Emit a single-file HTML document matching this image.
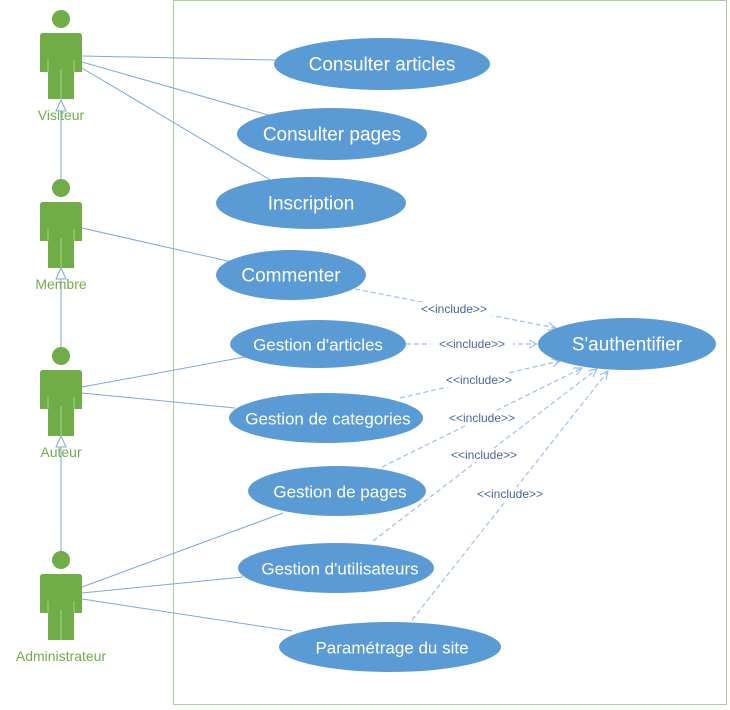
<!DOCTYPE html>
<html><head><meta charset="utf-8"><style>
html,body{margin:0;padding:0;background:#fff;width:730px;height:710px;overflow:hidden}
svg{display:block}
.uc{fill:#5b9bd5}
.t{fill:#fff;font-family:"Liberation Sans",sans-serif;text-anchor:middle;dominant-baseline:central}
.a{stroke:#7fa8d8;stroke-width:1;fill:none}
.d{stroke:#9dc0e6;stroke-width:1.2;fill:none;stroke-dasharray:5,3}
.lb{fill:#44689a;font-family:"Liberation Sans",sans-serif;font-size:12px;text-anchor:middle;dominant-baseline:central}
.an{fill:#70ad47;font-family:"Liberation Sans",sans-serif;font-size:14px;text-anchor:middle}
</style></head><body>
<svg width="730" height="710" viewBox="0 0 730 710" xmlns="http://www.w3.org/2000/svg">
<defs>
<g id="actor">
<circle cx="0" cy="0" r="9" fill="#70ad47"/>
<path d="M-21,17 Q-21,14 -18,14 L18,14 Q21,14 21,17 L21,53 L13,53 L13,80 L-13,80 L-13,53 L-21,53 Z" fill="#70ad47"/>
<line x1="-13" y1="41" x2="-13" y2="53" stroke="#a9d18e" stroke-width="1"/>
<line x1="13" y1="41" x2="13" y2="53" stroke="#a9d18e" stroke-width="1"/>
<line x1="0" y1="50" x2="0" y2="80" stroke="#a9d18e" stroke-width="1"/>
</g>
<marker id="ar" markerWidth="10" markerHeight="10" refX="9" refY="5" orient="auto" markerUnits="userSpaceOnUse">
<path d="M1,1 L9,5 L1,9" fill="none" stroke="#9dc0e6" stroke-width="1.2"/>
</marker>
</defs>
<rect x="173.5" y="0.5" width="553" height="704" fill="none" stroke="#a9d18e" stroke-width="1"/>

<line class="a" x1="61" y1="179" x2="61" y2="100"/>
<line class="a" x1="61" y1="347" x2="61" y2="268"/>
<line class="a" x1="61" y1="551" x2="61" y2="436"/>
<path d="M61,100 L56,111 L66,111 Z" fill="#fff" stroke="#7fa8d8"/>
<path d="M61,268 L56,279 L66,279 Z" fill="#fff" stroke="#7fa8d8"/>
<path d="M61,436 L56,447 L66,447 Z" fill="#fff" stroke="#7fa8d8"/>

<use href="#actor" x="61" y="19"/>
<use href="#actor" x="61" y="188"/>
<use href="#actor" x="61" y="356"/>
<use href="#actor" x="61" y="560"/>
<text class="an" x="61" y="120">Visiteur</text>
<text class="an" x="61" y="289">Membre</text>
<text class="an" x="61" y="457">Auteur</text>
<text class="an" x="61" y="661">Administrateur</text>

<line class="a" x1="82" y1="56" x2="275" y2="60"/>
<line class="a" x1="82" y1="62" x2="268" y2="115"/>
<line class="a" x1="82" y1="68" x2="272" y2="181"/>
<line class="a" x1="82" y1="228" x2="232" y2="262"/>
<line class="a" x1="82" y1="387" x2="250" y2="356"/>
<line class="a" x1="82" y1="393" x2="235" y2="408"/>
<line class="a" x1="82" y1="587" x2="283" y2="513"/>
<line class="a" x1="82" y1="593" x2="243" y2="577"/>
<line class="a" x1="82" y1="599" x2="292" y2="631"/>

<line class="d" x1="355" y1="289" x2="556" y2="328" marker-end="url(#ar)"/>
<line class="d" x1="406" y1="344" x2="537" y2="344" marker-end="url(#ar)"/>
<line class="d" x1="400" y1="398" x2="560" y2="361" marker-end="url(#ar)"/>
<line class="d" x1="382" y1="467" x2="582" y2="368" marker-end="url(#ar)"/>
<line class="d" x1="373" y1="541" x2="597" y2="369" marker-end="url(#ar)"/>
<line class="d" x1="412" y1="620" x2="608" y2="371" marker-end="url(#ar)"/>

<g>
<rect x="413" y="302" width="82" height="14" fill="#fff"/><text class="lb" x="454" y="309">&lt;&lt;include&gt;&gt;</text>
<rect x="431" y="337" width="82" height="14" fill="#fff"/><text class="lb" x="472" y="344">&lt;&lt;include&gt;&gt;</text>
<rect x="438" y="373" width="82" height="14" fill="#fff"/><text class="lb" x="479" y="380">&lt;&lt;include&gt;&gt;</text>
<rect x="441" y="411" width="82" height="14" fill="#fff"/><text class="lb" x="482" y="418">&lt;&lt;include&gt;&gt;</text>
<rect x="443" y="448" width="82" height="14" fill="#fff"/><text class="lb" x="484" y="455">&lt;&lt;include&gt;&gt;</text>
<rect x="469" y="487" width="82" height="14" fill="#fff"/><text class="lb" x="510" y="494">&lt;&lt;include&gt;&gt;</text>
</g>

<ellipse class="uc" cx="382" cy="64" rx="108" ry="26"/><text class="t" x="382" y="65" font-size="19">Consulter articles</text>
<ellipse class="uc" cx="332" cy="134" rx="95" ry="26"/><text class="t" x="332" y="135" font-size="19">Consulter pages</text>
<ellipse class="uc" cx="311" cy="203" rx="95" ry="26"/><text class="t" x="311" y="204" font-size="19">Inscription</text>
<ellipse class="uc" cx="291" cy="275" rx="75" ry="25"/><text class="t" x="291" y="276" font-size="19">Commenter</text>
<ellipse class="uc" cx="318" cy="344" rx="88" ry="24"/><text class="t" x="318" y="345" font-size="17">Gestion d'articles</text>
<ellipse class="uc" cx="326" cy="418" rx="97" ry="25"/><text class="t" x="328" y="419" font-size="17">Gestion de categories</text>
<ellipse class="uc" cx="337" cy="491" rx="89" ry="25"/><text class="t" x="340" y="492" font-size="17">Gestion de pages</text>
<ellipse class="uc" cx="336" cy="568" rx="98" ry="25"/><text class="t" x="340" y="569" font-size="17">Gestion d'utilisateurs</text>
<ellipse class="uc" cx="390" cy="647" rx="111" ry="25"/><text class="t" x="392" y="648" font-size="17">Paramétrage du site</text>
<ellipse class="uc" cx="627" cy="344" rx="89" ry="26"/><text class="t" x="627" y="345" font-size="19">S'authentifier</text>
</svg>
</body></html>
